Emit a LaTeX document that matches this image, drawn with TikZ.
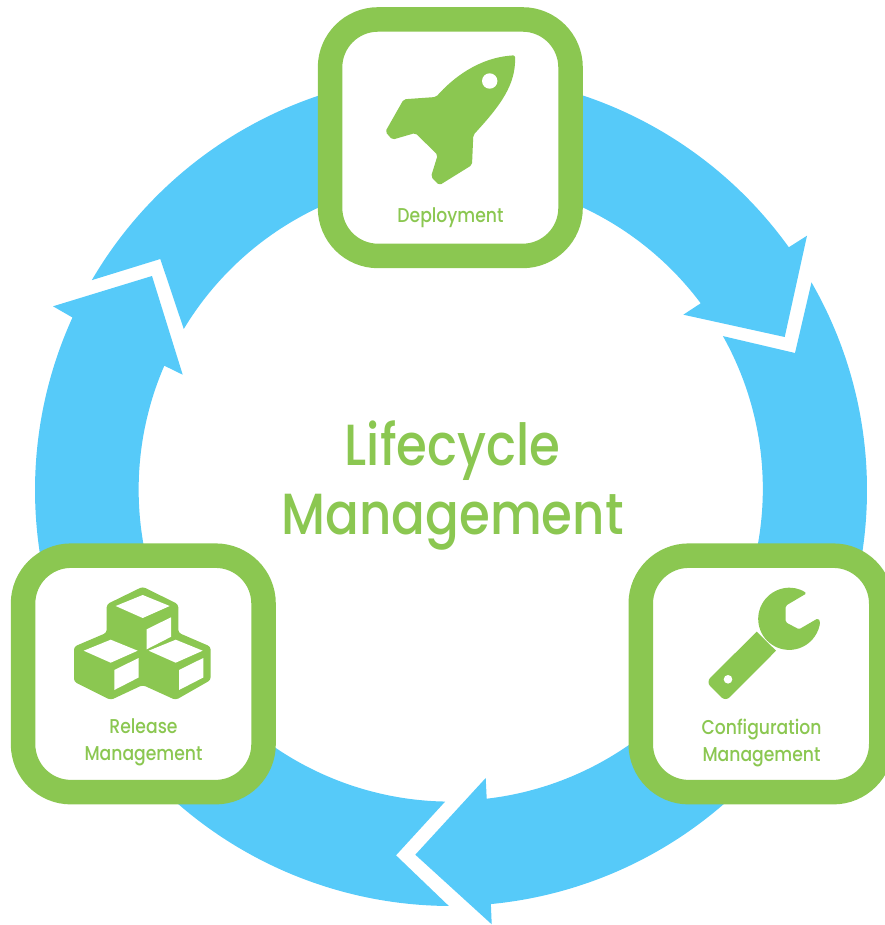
\documentclass[tikz,border=0pt]{standalone}
\usepackage{fontspec}
\newfontfamily\lcfont[FakeStretch=0.86]{Poppins Medium}
\definecolor{lcgreen}{HTML}{8BC751}
\definecolor{lcblue}{HTML}{56CAF9}
\tikzset{
  ring/.style={fill=lcblue},
  icon/.style={fill=lcgreen},
  hole/.style={fill=white},
  stage/.style={draw=lcgreen,fill=white,line width=24.5pt,rounded corners=48pt,
    minimum width=240.5pt,minimum height=236.5pt,inner sep=0pt},
  stagetext/.style={text=lcgreen,align=center,font=\lcfont\fontsize{20}{27}\selectfont,inner sep=0pt},
  titletext/.style={text=lcgreen,align=center,font=\lcfont\fontsize{58}{69}\selectfont,inner sep=0pt},
}
\begin{document}
\begin{tikzpicture}[x=1pt,y=1pt,yscale=-1]
  \useasboundingbox (0,0) rectangle (884,925);
  \coordinate (ringC) at (451,490);

  \fill[ring] (ringC) ++(-90:416) arc[start angle=-90,end angle=-35.7,radius=416]
    -- (807,235.7) -- (784.7,337) -- (683.3,314.7) -- (700.7,303.3)
    arc[start angle=-36.8,end angle=-90,radius=312] -- cycle;
  \fill[ring] (ringC) ++(-29.94:416) arc[start angle=-29.94,end angle=84.5,radius=416]
    -- (491.7,924.3) -- (415.3,854.7) -- (485.7,778) -- (486.7,798.7)
    arc[start angle=83.4,end angle=-29.3,radius=312] -- (795,353) -- cycle;
  \fill[ring] (ringC) ++(90.3:416) arc[start angle=90.3,end angle=204.5,radius=416]
    -- (53,306.3) -- (152,276) -- (182.7,374.7) -- (164.3,365.7)
    arc[start angle=203.4,end angle=91,radius=312] -- (396,855.3) -- cycle;
  \fill[ring] (ringC) ++(210.3:416) arc[start angle=210.3,end angle=270,radius=416]
    -- ++(0,104) arc[start angle=270,end angle=211.07,radius=312] -- (160.3,259) -- cycle;

  \node[stage] (deployBox) at (450.3,137.7) {};
  \node[stage] (releaseBox) at (143.3,673.9) {};
  \node[stage] (configBox) at (761,673.9) {};

  \fill[icon,rounded corners=2pt] (436,97) .. controls (452,79) and (478,57.5) .. (515,55.3)
    .. controls (516,85) and (500,106) .. (473.3,135)
    -- (472,165) -- (439.3,185.3) -- (431,176.7) -- (437.7,155) -- (415.3,133)
    -- (392.3,139.7) -- (385.3,131.7) -- (403.7,99.3) -- cycle;
  \fill[hole] (489.7,81) circle[radius=7.7];

  \fill[icon,rounded corners=3pt] (142.7,586.7) -- (178.3,604.3) -- (178.3,632.7) -- (210.7,646.7)
    -- (210.7,680) -- (175.7,700) -- (142.7,685) -- (110.7,700) -- (74,681.7) -- (74,646.7)
    -- (106.7,632.7) -- (106.7,604.3) -- cycle;
  \foreach \cx/\cy in {142.7/606, 110.7/650.7, 175.7/650.7}
    \fill[hole] (\cx-27,\cy) -- (\cx,\cy-11) -- (\cx+27,\cy) -- (\cx,\cy+12) -- cycle;
  \foreach \cx/\cy in {146.7/629.3, 114.3/670, 179/670}
    \fill[hole] (\cx,\cy) -- (\cx+24.3,\cy-12) -- (\cx+24.3,\cy+7.5) -- (\cx,\cy+20) -- cycle;

  \fill[icon,rounded corners=1.5pt] (806.7,593.3) arc[start angle=-55.6,end angle=-355.6,radius=31]
    -- (818,618.3) -- (799,629.3) -- (785.7,622.3) -- (785.7,605.7) -- cycle;
  \fill[icon] (756.7,631.7) -- (776,650.7) {[rounded corners=6pt] -- (725.5,701.5) -- (706,682)} -- cycle;
  \fill[hole] (728,679.3) circle[radius=4.3];

  \node[stagetext] (deployText) at (450.5,218) {Deployment};
  \node[stagetext] (releaseText) at (143.5,742.5) {Release\\Management};
  \node[stagetext] (configText) at (761.5,742.5) {Configuration\\Management};
  \node[titletext] (lifecycleText) at (452.5,485) {Lifecycle\\Management};
\end{tikzpicture}
\end{document}
